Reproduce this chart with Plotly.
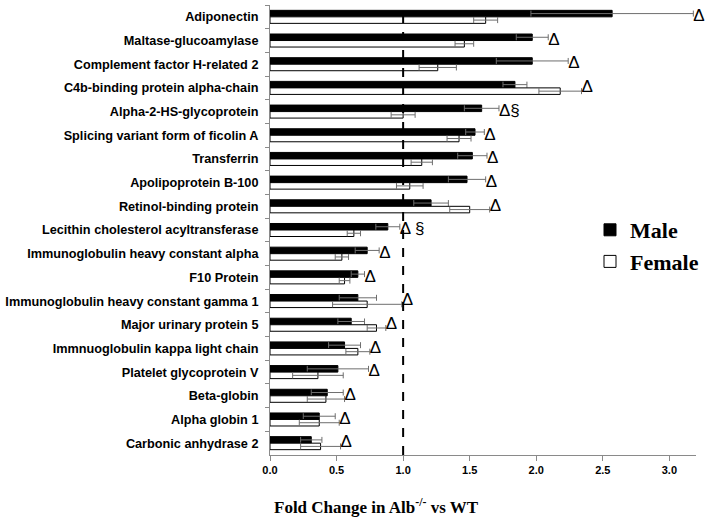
import plotly.graph_objects as go

categories = [
    "Adiponectin", "Maltase-glucoamylase", "Complement factor H-related 2",
    "C4b-binding protein alpha-chain", "Alpha-2-HS-glycoprotein",
    "Splicing variant form of ficolin A", "Transferrin", "Apolipoprotein B-100",
    "Retinol-binding protein", "Lecithin cholesterol acyltransferase",
    "Immunoglobulin heavy constant alpha", "F10 Protein",
    "Immunoglobulin heavy constant gamma 1", "Major urinary protein 5",
    "Immnuoglobulin kappa light chain", "Platelet glycoprotein V",
    "Beta-globin", "Alpha globin 1", "Carbonic anhydrase 2",
]
male = [2.57, 1.97, 1.97, 1.84, 1.59, 1.54, 1.52, 1.48, 1.21, 0.885,
        0.73, 0.66, 0.66, 0.61, 0.56, 0.51, 0.43, 0.37, 0.31]
male_err = [0.61, 0.12, 0.27, 0.09, 0.13, 0.07, 0.11, 0.14, 0.13, 0.09,
            0.09, 0.05, 0.14, 0.10, 0.12, 0.23, 0.12, 0.12, 0.08]
female = [1.62, 1.46, 1.26, 2.18, 1.00, 1.42, 1.14, 1.05, 1.50, 0.63,
          0.54, 0.56, 0.73, 0.80, 0.66, 0.36, 0.42, 0.37, 0.38]
female_err = [0.09, 0.07, 0.14, 0.16, 0.09, 0.09, 0.08, 0.10, 0.15, 0.05,
              0.05, 0.04, 0.26, 0.07, 0.09, 0.19, 0.14, 0.15, 0.15]
sig = ["Δ", "Δ", "Δ", "Δ", "Δ§", "Δ", "Δ", "Δ", "Δ", "Δ §",
       "Δ", "Δ", "Δ", "Δ", "Δ", "Δ", "Δ", "Δ", "Δ"]
x_ticks = [0.0, 0.5, 1.0, 1.5, 2.0, 2.5, 3.0]

sig_x = [max(m + me, f + fe) for m, me, f, fe in zip(male, male_err, female, female_err)]

err_style = dict(type="data", color="#6e6e6e", thickness=1, width=3)

fig = go.Figure()
fig.add_trace(go.Bar(
    name="Male", y=categories, x=male, orientation="h",
    marker=dict(color="black", line=dict(color="black", width=1)),
    error_x=dict(array=male_err, **err_style),
))
fig.add_trace(go.Bar(
    name="Female", y=categories, x=female, orientation="h",
    marker=dict(color="white", line=dict(color="black", width=1)),
    error_x=dict(array=female_err, **err_style),
))
fig.add_trace(go.Scatter(
    y=categories, x=sig_x, mode="text", text=sig, textposition="middle right",
    textfont=dict(family="Liberation Sans", size=17, color="black"),
    showlegend=False, hoverinfo="skip", cliponaxis=False,
))

fig.add_vline(x=1.0, line=dict(color="black", width=2, dash="dash"))

fig.update_layout(
    width=709, height=520,
    margin=dict(l=270, r=13, t=5, b=65, autoexpand=False),
    plot_bgcolor="white", paper_bgcolor="white",
    barmode="group", bargap=0.45, bargroupgap=0.0,
    font=dict(family="Liberation Sans", color="black"),
    legend=dict(
        x=(590 - 270) / 426, y=1 - (209 - 5) / 450, xanchor="left", yanchor="top",
        font=dict(family="Liberation Serif", size=22, color="black", weight="bold"),
        bgcolor="rgba(0,0,0,0)", tracegroupgap=0, itemwidth=30,
    ),
    showlegend=True,
)
fig.update_xaxes(
    range=[0, 3.2], tickvals=x_ticks, tickformat=".1f",
    showline=True, linecolor="#8a8a8a", linewidth=1,
    ticks="outside", ticklen=5, tickcolor="#8a8a8a",
    showgrid=False, zeroline=False, automargin=False,
    tickfont=dict(family="Liberation Sans", size=11, color="black", weight="bold"),
)
fig.update_yaxes(
    range=[len(categories) - 0.5, -0.5], type="category",
    showline=True, linecolor="#8a8a8a", linewidth=1,
    ticks="outside", ticklen=4, tickcolor="#8a8a8a", tickson="boundaries",
    ticklabelstandoff=8,
    showgrid=False, zeroline=False, automargin=False,
    tickfont=dict(family="Liberation Sans", size=12.7, color="black", weight="bold"),
)
fig.add_annotation(
    text="Fold Change in Alb<sup>-/-</sup> vs WT",
    xref="paper", yref="paper", x=(376 - 270) / 426, y=-(506 - 455) / 450,
    xanchor="center", yanchor="middle", showarrow=False,
    font=dict(family="Liberation Serif", size=17, color="black", weight="bold"),
)

fig.write_html("out.html", config={"displayModeBar": False},
               post_script="document.body.style.margin='0px';")
